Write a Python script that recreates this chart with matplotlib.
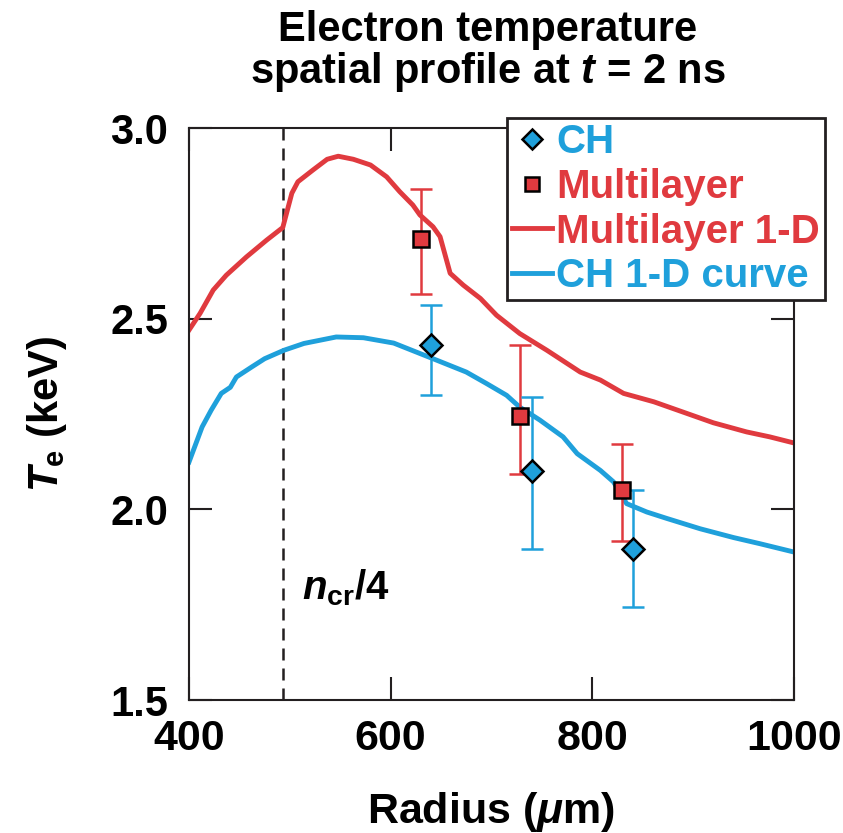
import matplotlib
matplotlib.use("Agg")
import matplotlib.pyplot as plt
from matplotlib.lines import Line2D
import numpy as np

plt.rcParams['font.family'] = ['Liberation Sans', 'DejaVu Sans']
plt.rcParams['font.weight'] = 'bold'
plt.rcParams['mathtext.fontset'] = 'custom'
plt.rcParams['mathtext.rm'] = 'Liberation Sans:bold'
plt.rcParams['mathtext.it'] = 'Liberation Sans:bold:italic'
plt.rcParams['mathtext.bf'] = 'Liberation Sans:bold'

RED = '#E03A3F'
BLUE = '#1FA0DB'
DARK = '#231F20'

# 1-D simulation curves
red_x = [400, 411, 424, 437, 457, 477, 493, 502, 508, 523, 537, 548, 563, 580, 596,
         609, 622, 629, 642, 649, 659, 672, 689, 705, 728, 755, 788, 808, 831, 861,
         890, 920, 953, 976, 1000]
red_y = [2.47, 2.514, 2.575, 2.614, 2.662, 2.706, 2.739, 2.829, 2.859, 2.89, 2.918,
         2.926, 2.918, 2.903, 2.872, 2.833, 2.798, 2.772, 2.741, 2.715, 2.619, 2.588,
         2.553, 2.509, 2.461, 2.417, 2.36, 2.339, 2.304, 2.282, 2.255, 2.227, 2.203,
         2.19, 2.174]
blue_x = [400, 413, 422, 432, 441, 447, 462, 475, 494, 514, 546, 573, 603, 642, 675,
          695, 715, 728, 748, 771, 785, 808, 821, 834, 854, 874, 907, 940, 966, 1000]
blue_y = [2.124, 2.216, 2.26, 2.304, 2.32, 2.347, 2.373, 2.395, 2.417, 2.435, 2.452,
          2.45, 2.436, 2.395, 2.36, 2.33, 2.299, 2.268, 2.234, 2.19, 2.146, 2.102,
          2.072, 2.015, 1.993, 1.976, 1.949, 1.926, 1.910, 1.888]

# Measured points
ch_x = [640, 740, 840]
ch_y = [2.43, 2.10, 1.895]
ch_lo = [2.30, 1.895, 1.745]
ch_hi = [2.535, 2.295, 2.05]
ml_x = [630, 728, 829]
ml_y = [2.71, 2.245, 2.052]
ml_lo = [2.565, 2.093, 1.917]
ml_hi = [2.84, 2.43, 2.172]

ncr_x = 493

xticks = [400, 600, 800, 1000]
yticks = [1.5, 2.0, 2.5, 3.0]

W, H = 843, 833
fig = plt.figure(figsize=(W / 100, H / 100), dpi=100)
ax = fig.add_axes([189 / W, 1 - 700 / H, (794 - 189) / W, (700 - 128) / H])

ax.axvline(ncr_x, color=DARK, lw=1.8, dashes=(4.8, 3.2), zorder=1)
ax.plot(red_x, red_y, color=RED, lw=3.5, zorder=2, solid_joinstyle='round')
ax.plot(blue_x, blue_y, color=BLUE, lw=3.5, zorder=2, solid_joinstyle='round')

ml_err = [np.array(ml_y) - np.array(ml_lo), np.array(ml_hi) - np.array(ml_y)]
ch_err = [np.array(ch_y) - np.array(ch_lo), np.array(ch_hi) - np.array(ch_y)]
ax.errorbar(ml_x, ml_y, yerr=ml_err, fmt='none', ecolor=RED, elinewidth=1.8,
            capsize=8, capthick=1.8, zorder=3)
ax.errorbar(ch_x, ch_y, yerr=ch_err, fmt='none', ecolor=BLUE, elinewidth=1.8,
            capsize=8, capthick=1.8, zorder=3)
ax.plot(ml_x, ml_y, 's', ms=11, mfc=RED, mec='black', mew=1.8, zorder=4)
ax.plot(ch_x, ch_y, 'D', ms=11, mfc=BLUE, mec='black', mew=1.8, zorder=4)

ax.set_xlim(400, 1000)
ax.set_ylim(1.5, 3.0)
ax.set_xticks(xticks)
ax.set_yticks(yticks)
ax.set_xticklabels([str(v) for v in xticks], fontsize=31, fontweight='bold')
ax.set_yticklabels([f'{v:.1f}' for v in yticks], fontsize=30, fontweight='bold')
ax.tick_params(direction='in', length=16.5, width=1.5, color=DARK,
               top=True, right=True, pad=15)
ax.tick_params(axis='x', pad=14)
for s in ax.spines.values():
    s.set_linewidth(1.5)
    s.set_color(DARK)

ax.set_xlabel(r'Radius ($\mu$m)', fontsize=31, fontweight='bold', labelpad=22)
ax.set_ylabel(r'$T_{\mathrm{e}}$ (keV)', fontsize=30, fontweight='bold', labelpad=30)

ax.text(0.187, 0.175, r'$n_{\mathrm{cr}}$/4', transform=ax.transAxes, fontsize=29,
        fontweight='bold', ha='left', va='baseline')

fig.text(488 / W, 1 - 10 / H, 'Electron temperature\nspatial profile at $t$ = 2 ns',
         ha='center', va='top', fontsize=30, fontweight='bold', linespacing=1.0)

handles = [
    Line2D([], [], ls='none', marker='D', ms=10, mfc=BLUE, mec='black', mew=1.8),
    Line2D([], [], ls='none', marker='s', ms=10, mfc=RED, mec='black', mew=1.8),
    Line2D([], [], color=RED, lw=3.5),
    Line2D([], [], color=BLUE, lw=3.5),
]
labels = ['CH', 'Multilayer', 'Multilayer 1-D', 'CH 1-D curve']
leg = fig.legend(handles, labels, loc='upper left',
                 bbox_to_anchor=(507 / W, 1 - 118 / H),
                 prop={'weight': 'bold', 'size': 29},
                 frameon=True, fancybox=False, framealpha=1, edgecolor=DARK,
                 handlelength=1.0, handletextpad=0.1, labelspacing=0.17,
                 borderpad=0.12, borderaxespad=0)
leg.get_frame().set_linewidth(2.0)
for t, c in zip(leg.get_texts(), [BLUE, RED, RED, BLUE]):
    t.set_color(c)

fig.savefig('out.png', dpi=100)
